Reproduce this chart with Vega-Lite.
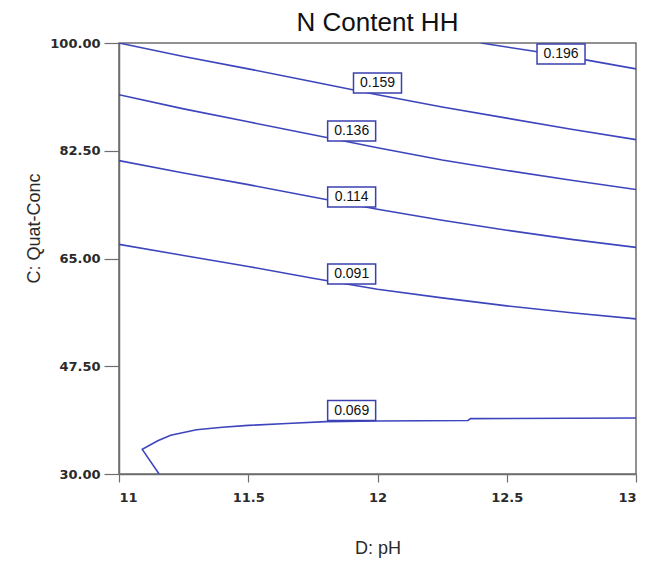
{
  "$schema": "https://vega.github.io/schema/vega-lite/v6.json",
  "width": 517,
  "height": 431,
  "autosize": {"type": "none"},
  "padding": {"left": 119, "top": 43, "right": 11, "bottom": 93},
  "background": "white",
  "title": {
    "text": "N Content HH",
    "font": "Liberation Sans",
    "fontSize": 26,
    "fontWeight": "normal",
    "color": "#111111",
    "anchor": "middle",
    "offset": 1
  },
  "config": {
    "view": {"stroke": "#6e6e6e", "strokeWidth": 1.5},
    "axis": {
      "grid": false,
      "domainColor": "#6e6e6e",
      "domainWidth": 1.5,
      "tickColor": "#6e6e6e",
      "tickWidth": 1.2,
      "labelFont": "DejaVu Sans",
      "labelFontSize": 13,
      "labelFontWeight": "bold",
      "labelColor": "#2a2a2a",
      "titleFont": "Liberation Sans",
      "titleFontSize": 18,
      "titleFontWeight": "normal",
      "titleColor": "#2a2a2a"
    }
  },
  "datasets": {
    "lines": [
      {"level": "0.196", "seq": 1, "pH": 12.40, "conc": 100.0},
      {"level": "0.196", "seq": 2, "pH": 12.60, "conc": 98.7},
      {"level": "0.196", "seq": 3, "pH": 12.80, "conc": 97.3},
      {"level": "0.196", "seq": 4, "pH": 13.00, "conc": 95.8},
      {"level": "0.159", "seq": 1, "pH": 11.00, "conc": 100.0},
      {"level": "0.159", "seq": 2, "pH": 11.25, "conc": 97.8},
      {"level": "0.159", "seq": 3, "pH": 11.50, "conc": 95.8},
      {"level": "0.159", "seq": 4, "pH": 11.75, "conc": 93.7},
      {"level": "0.159", "seq": 5, "pH": 12.00, "conc": 91.6},
      {"level": "0.159", "seq": 6, "pH": 12.25, "conc": 89.6},
      {"level": "0.159", "seq": 7, "pH": 12.50, "conc": 87.8},
      {"level": "0.159", "seq": 8, "pH": 12.75, "conc": 86.0},
      {"level": "0.159", "seq": 9, "pH": 13.00, "conc": 84.3},
      {"level": "0.136", "seq": 1, "pH": 11.00, "conc": 91.6},
      {"level": "0.136", "seq": 2, "pH": 11.25, "conc": 89.3},
      {"level": "0.136", "seq": 3, "pH": 11.50, "conc": 87.2},
      {"level": "0.136", "seq": 4, "pH": 11.75, "conc": 85.1},
      {"level": "0.136", "seq": 5, "pH": 12.00, "conc": 83.0},
      {"level": "0.136", "seq": 6, "pH": 12.25, "conc": 81.0},
      {"level": "0.136", "seq": 7, "pH": 12.50, "conc": 79.3},
      {"level": "0.136", "seq": 8, "pH": 12.75, "conc": 77.7},
      {"level": "0.136", "seq": 9, "pH": 13.00, "conc": 76.2},
      {"level": "0.114", "seq": 1, "pH": 11.00, "conc": 80.9},
      {"level": "0.114", "seq": 2, "pH": 11.25, "conc": 78.9},
      {"level": "0.114", "seq": 3, "pH": 11.50, "conc": 77.0},
      {"level": "0.114", "seq": 4, "pH": 11.75, "conc": 75.0},
      {"level": "0.114", "seq": 5, "pH": 12.00, "conc": 73.0},
      {"level": "0.114", "seq": 6, "pH": 12.25, "conc": 71.2},
      {"level": "0.114", "seq": 7, "pH": 12.50, "conc": 69.6},
      {"level": "0.114", "seq": 8, "pH": 12.75, "conc": 68.1},
      {"level": "0.114", "seq": 9, "pH": 13.00, "conc": 66.8},
      {"level": "0.091", "seq": 1, "pH": 11.00, "conc": 67.3},
      {"level": "0.091", "seq": 2, "pH": 11.25, "conc": 65.5},
      {"level": "0.091", "seq": 3, "pH": 11.50, "conc": 63.7},
      {"level": "0.091", "seq": 4, "pH": 11.75, "conc": 61.8},
      {"level": "0.091", "seq": 5, "pH": 12.00, "conc": 60.0},
      {"level": "0.091", "seq": 6, "pH": 12.25, "conc": 58.6},
      {"level": "0.091", "seq": 7, "pH": 12.50, "conc": 57.3},
      {"level": "0.091", "seq": 8, "pH": 12.75, "conc": 56.2},
      {"level": "0.091", "seq": 9, "pH": 13.00, "conc": 55.2},
      {"level": "0.069", "seq": 1, "pH": 11.155, "conc": 30.0},
      {"level": "0.069", "seq": 2, "pH": 11.09, "conc": 34.0},
      {"level": "0.069", "seq": 3, "pH": 11.15, "conc": 35.4},
      {"level": "0.069", "seq": 4, "pH": 11.20, "conc": 36.3},
      {"level": "0.069", "seq": 5, "pH": 11.30, "conc": 37.2},
      {"level": "0.069", "seq": 6, "pH": 11.40, "conc": 37.6},
      {"level": "0.069", "seq": 7, "pH": 11.50, "conc": 37.9},
      {"level": "0.069", "seq": 8, "pH": 11.65, "conc": 38.2},
      {"level": "0.069", "seq": 9, "pH": 11.80, "conc": 38.5},
      {"level": "0.069", "seq": 10, "pH": 12.00, "conc": 38.6},
      {"level": "0.069", "seq": 11, "pH": 12.35, "conc": 38.7},
      {"level": "0.069", "seq": 12, "pH": 12.36, "conc": 39.0},
      {"level": "0.069", "seq": 13, "pH": 13.00, "conc": 39.1}
    ],
    "labels": [
      {"level": "0.196", "pH": 12.71, "conc": 98.2},
      {"level": "0.159", "pH": 12.00, "conc": 93.5},
      {"level": "0.136", "pH": 11.90, "conc": 85.7},
      {"level": "0.114", "pH": 11.90, "conc": 75.0},
      {"level": "0.091", "pH": 11.90, "conc": 62.5},
      {"level": "0.069", "pH": 11.90, "conc": 40.3}
    ]
  },
  "encoding": {
    "x": {
      "field": "pH",
      "type": "quantitative",
      "scale": {"domain": [11, 13], "nice": false, "zero": false},
      "axis": {
        "title": "D: pH",
        "values": [11, 11.5, 12, 12.5, 13],
        "format": "~g",
        "tickSize": 8,
        "labelPadding": 9,
        "titleY": 74,
        "titleBaseline": "middle"
      }
    },
    "y": {
      "field": "conc",
      "type": "quantitative",
      "scale": {"domain": [30, 100], "nice": false, "zero": false},
      "axis": {
        "title": "C: Quat-Conc",
        "values": [30, 47.5, 65, 82.5, 100],
        "format": ".2f",
        "tickSize": 15,
        "labelPadding": 4,
        "titleX": -76,
        "titleY": 185
      }
    }
  },
  "layer": [
    {
      "data": {"name": "lines"},
      "mark": {"type": "line", "color": "#3d45bd", "strokeWidth": 1.6, "clip": true},
      "encoding": {
        "detail": {"field": "level"},
        "order": {"field": "seq", "type": "quantitative"}
      }
    },
    {
      "data": {"name": "labels"},
      "mark": {
        "type": "point",
        "shape": "M-1,-0.4167H1V0.4167H-1Z",
        "size": 2304,
        "filled": true,
        "fill": "white",
        "fillOpacity": 1,
        "stroke": "#3a40b0",
        "strokeWidth": 1.5,
        "opacity": 1
      }
    },
    {
      "data": {"name": "labels"},
      "mark": {
        "type": "text",
        "font": "Liberation Sans",
        "fontSize": 14,
        "color": "#111111",
        "align": "center",
        "baseline": "middle"
      },
      "encoding": {"text": {"field": "level"}}
    }
  ]
}
